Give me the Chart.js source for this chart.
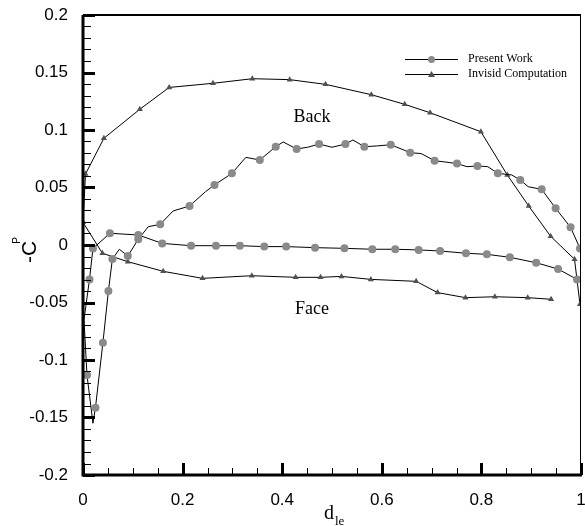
<!DOCTYPE html>
<html lang="en">
<head>
    <meta charset="UTF-8">
    <title>-Cp vs d_le</title>
    <style>
        html, body { margin: 0; padding: 0; background: #fff; }
        #cp-chart { display: block; }
    </style>
</head>
<body>
    <canvas id="cp-chart" width="585" height="526"></canvas>

    <script src="https://cdn.jsdelivr.net/npm/chart.js"></script>
    <script>
        // Present Work: back side from trailing edge to leading edge, then face side to trailing edge
        // pwMark = 1 where the original plot shows a symbol (the line has extra vertices without symbols)
        const pwX = [0.998, 0.979, 0.949, 0.921, 0.894, 0.878, 0.861, 0.833, 0.813, 0.792, 0.771, 0.751, 0.727, 0.706,
                     0.679, 0.657, 0.618, 0.589, 0.565, 0.542, 0.527, 0.500, 0.474, 0.451, 0.429, 0.402, 0.387,
                     0.355, 0.327, 0.299, 0.264, 0.246, 0.214, 0.181, 0.155, 0.131, 0.111, 0.090, 0.073, 0.059,
                     0.051, 0.040, 0.025, 0.020, 0.008, 0.002, 0.013, 0.020, 0.054, 0.111, 0.159, 0.217, 0.267,
                     0.315, 0.364, 0.408, 0.466, 0.525, 0.581, 0.627, 0.674, 0.717, 0.769, 0.811, 0.857, 0.910,
                     0.954, 0.992, 1.002];
        const pwY = [-0.003, 0.0154, 0.032, 0.0484, 0.0507, 0.0565, 0.0609, 0.0623, 0.0681, 0.0687, 0.0681, 0.0708,
                     0.0722, 0.0733, 0.0795, 0.0803, 0.0872, 0.0861, 0.0855, 0.0913, 0.0878, 0.085, 0.0878, 0.085,
                     0.0835, 0.0896, 0.0855, 0.0739, 0.0762, 0.0623, 0.0522, 0.0464, 0.0339, 0.0296, 0.018, 0.0159,
                     0.005, -0.0096, -0.0037, -0.0122, -0.040, -0.085, -0.1415, -0.155, -0.113, -0.065, -0.030,
                     -0.003, 0.0102, 0.0087, 0.0014, -0.0006, -0.0006, -0.0006, -0.0014, -0.0014, -0.0023, -0.0029,
                     -0.0037, -0.0037, -0.0043, -0.0052, -0.0072, -0.0081, -0.0107, -0.0154, -0.0209, -0.0299, -0.030];
        const pwMark = [1, 1, 1, 1, 0, 1, 0, 1, 0, 1, 0, 1, 0, 1,
                        0, 1, 1, 0, 1, 0, 1, 0, 1, 0, 1, 0, 1,
                        1, 0, 1, 1, 0, 1, 0, 1, 0, 1, 1, 0, 1,
                        1, 1, 1, 0, 1, 0, 1, 1, 1, 1, 1, 1, 1,
                        1, 1, 1, 1, 1, 1, 1, 1, 1, 1, 1, 1, 1,
                        1, 1, 0];

        // Invisid Computation: face from trailing edge to leading edge, then back to trailing edge
        const invX = [0.940, 0.893, 0.827, 0.768, 0.712, 0.669, 0.578, 0.519, 0.477, 0.427, 0.339, 0.240, 0.161,
                      0.090, 0.039, 0.000, 0.005, 0.042, 0.114, 0.173, 0.261, 0.340, 0.415, 0.487, 0.579, 0.646,
                      0.697, 0.799, 0.852, 0.895, 0.939, 0.987, 0.998];
        const invY = [-0.0472, -0.0458, -0.045, -0.0458, -0.0414, -0.0316, -0.0299, -0.0273, -0.0281, -0.0281,
                      -0.0267, -0.029, -0.0229, -0.0145, -0.0072, 0.0197, 0.0617, 0.0928, 0.118, 0.137, 0.1406,
                      0.1446, 0.1438, 0.1397, 0.1307, 0.1223, 0.115, 0.0985, 0.0609, 0.0339, 0.0076, -0.0124, -0.0516];

        const seriesNames = ['Present Work', 'Invisid Computation'];
        const xTicks = [0, 0.2, 0.4, 0.6, 0.8, 1];
        const yTicks = [-0.2, -0.15, -0.1, -0.05, 0, 0.05, 0.1, 0.15, 0.2];

        const circleGrey = '#8a8a8a';
        const triGrey = '#505050';

        function toPoints(xs, ys) {
            return xs.map((x, i) => ({ x: x, y: ys[i] }));
        }

        // frame, inward ticks, legend and text labels
        const decorations = {
            id: 'decorations',
            afterDraw(chart) {
                const ctx = chart.ctx;
                const xs = chart.scales.x, ys = chart.scales.y;
                const a = chart.chartArea;
                ctx.save();
                ctx.strokeStyle = '#000';
                ctx.lineCap = 'butt';

                // minor / major ticks pointing inwards
                for (let v = -0.2; v <= 0.2001; v += 0.01) {
                    const y = Math.round(ys.getPixelForValue(v)) + 0.5;
                    const major = yTicks.some(t => Math.abs(t - v) < 1e-6);
                    ctx.lineWidth = major ? 3 : 1;
                    ctx.beginPath();
                    ctx.moveTo(a.left, y);
                    ctx.lineTo(a.left + (major ? 12 : 8), y);
                    ctx.stroke();
                }
                for (let v = 0; v <= 1.0001; v += 0.05) {
                    const x = Math.round(xs.getPixelForValue(v)) + 0.5;
                    const major = xTicks.some(t => Math.abs(t - v) < 1e-6);
                    ctx.lineWidth = major ? 3 : 1;
                    ctx.beginPath();
                    ctx.moveTo(x, a.bottom);
                    ctx.lineTo(x, a.bottom - (major ? 12 : 7));
                    ctx.stroke();
                }

                // frame
                ctx.lineWidth = 3;
                ctx.beginPath();
                ctx.moveTo(a.left, a.top);
                ctx.lineTo(a.left, a.bottom);
                ctx.lineTo(a.right + 1, a.bottom);
                ctx.stroke();
                ctx.lineWidth = 2;
                ctx.beginPath();
                ctx.moveTo(a.left, a.top);
                ctx.lineTo(a.right, a.top);
                ctx.stroke();
                ctx.lineWidth = 1;
                ctx.beginPath();
                ctx.moveTo(a.right - 0.5, a.top);
                ctx.lineTo(a.right - 0.5, a.bottom);
                ctx.stroke();

                // legend
                const lx0 = 405, lx1 = 458, rows = [59, 74];
                ctx.font = '12px "Liberation Serif", "Times New Roman", serif';
                ctx.textBaseline = 'middle';
                ctx.textAlign = 'left';
                rows.forEach((ry, i) => {
                    ctx.lineWidth = 1;
                    ctx.strokeStyle = '#000';
                    ctx.beginPath();
                    ctx.moveTo(lx0, ry + 0.5);
                    ctx.lineTo(lx1, ry + 0.5);
                    ctx.stroke();
                    const cx = (lx0 + lx1) / 2;
                    ctx.beginPath();
                    if (i === 0) {
                        ctx.fillStyle = circleGrey;
                        ctx.arc(cx, ry + 0.5, 3.5, 0, Math.PI * 2);
                    } else {
                        ctx.fillStyle = triGrey;
                        ctx.moveTo(cx, ry - 3);
                        ctx.lineTo(cx + 3.5, ry + 3);
                        ctx.lineTo(cx - 3.5, ry + 3);
                        ctx.closePath();
                    }
                    ctx.fill();
                    ctx.fillStyle = '#000';
                    ctx.fillText(seriesNames[i], 468, ry);
                });

                // region labels
                ctx.font = '18px "Liberation Serif", "Times New Roman", serif';
                ctx.textAlign = 'center';
                ctx.fillText('Back', 312, 117);
                ctx.fillText('Face', 312, 309);

                // axis titles with subscripts
                ctx.font = '20px "Liberation Serif", "Times New Roman", serif';
                ctx.textAlign = 'left';
                ctx.textBaseline = 'alphabetic';
                ctx.fillText('d', 324, 519);
                ctx.font = '13px "Liberation Serif", "Times New Roman", serif';
                ctx.fillText('le', 335, 525);

                ctx.translate(36, 263);
                ctx.rotate(-Math.PI / 2);
                ctx.font = '21px "Liberation Sans", Arial, sans-serif';
                ctx.fillText('-C', 0, 0);
                const w = ctx.measureText('-C').width;
                ctx.font = '10px "Liberation Sans", Arial, sans-serif';
                ctx.fillText('P', w - 3, -16);
                ctx.restore();
            }
        };

        const tickFont = { family: '"Liberation Sans", Arial, sans-serif', size: 17 };

        new Chart(document.getElementById('cp-chart').getContext('2d'), {
            type: 'scatter',
            data: {
                datasets: [{
                    label: seriesNames[0],
                    data: toPoints(pwX, pwY),
                    showLine: true,
                    borderColor: '#000',
                    borderWidth: 1,
                    pointStyle: 'circle',
                    pointRadius: c => pwMark[c.dataIndex] ? 4 : 0,
                    pointBackgroundColor: circleGrey,
                    pointBorderWidth: 0
                }, {
                    label: seriesNames[1],
                    data: toPoints(invX, invY),
                    showLine: true,
                    borderColor: '#000',
                    borderWidth: 1,
                    pointStyle: 'triangle',
                    pointRadius: 3.5,
                    pointBackgroundColor: triGrey,
                    pointBorderWidth: 0
                }]
            },
            options: {
                responsive: false,
                animation: false,
                layout: { padding: { top: 15, right: 1, left: 0, bottom: 0 } },
                plugins: {
                    legend: { display: false },
                    tooltip: { enabled: false }
                },
                scales: {
                    x: {
                        type: 'linear',
                        min: 0, max: 1,
                        grid: { display: false },
                        border: { display: false },
                        afterFit: s => { s.height = 51; s.paddingLeft = 0; s.paddingRight = 0; },
                        afterBuildTicks: s => { s.ticks = xTicks.map(v => ({ value: v })); },
                        ticks: {
                            color: '#000', font: tickFont, padding: 7, maxRotation: 0,
                            callback: v => String(+v.toFixed(2))
                        }
                    },
                    y: {
                        type: 'linear',
                        min: -0.2, max: 0.2,
                        grid: { display: false },
                        border: { display: false },
                        afterFit: s => { s.width = 83; s.paddingTop = 0; s.paddingBottom = 0; },
                        afterBuildTicks: s => { s.ticks = yTicks.map(v => ({ value: v })); },
                        ticks: {
                            color: '#000', font: tickFont, padding: 7,
                            callback: v => String(+v.toFixed(2))
                        }
                    }
                }
            },
            plugins: [decorations]
        });
    </script>
</body>
</html>
